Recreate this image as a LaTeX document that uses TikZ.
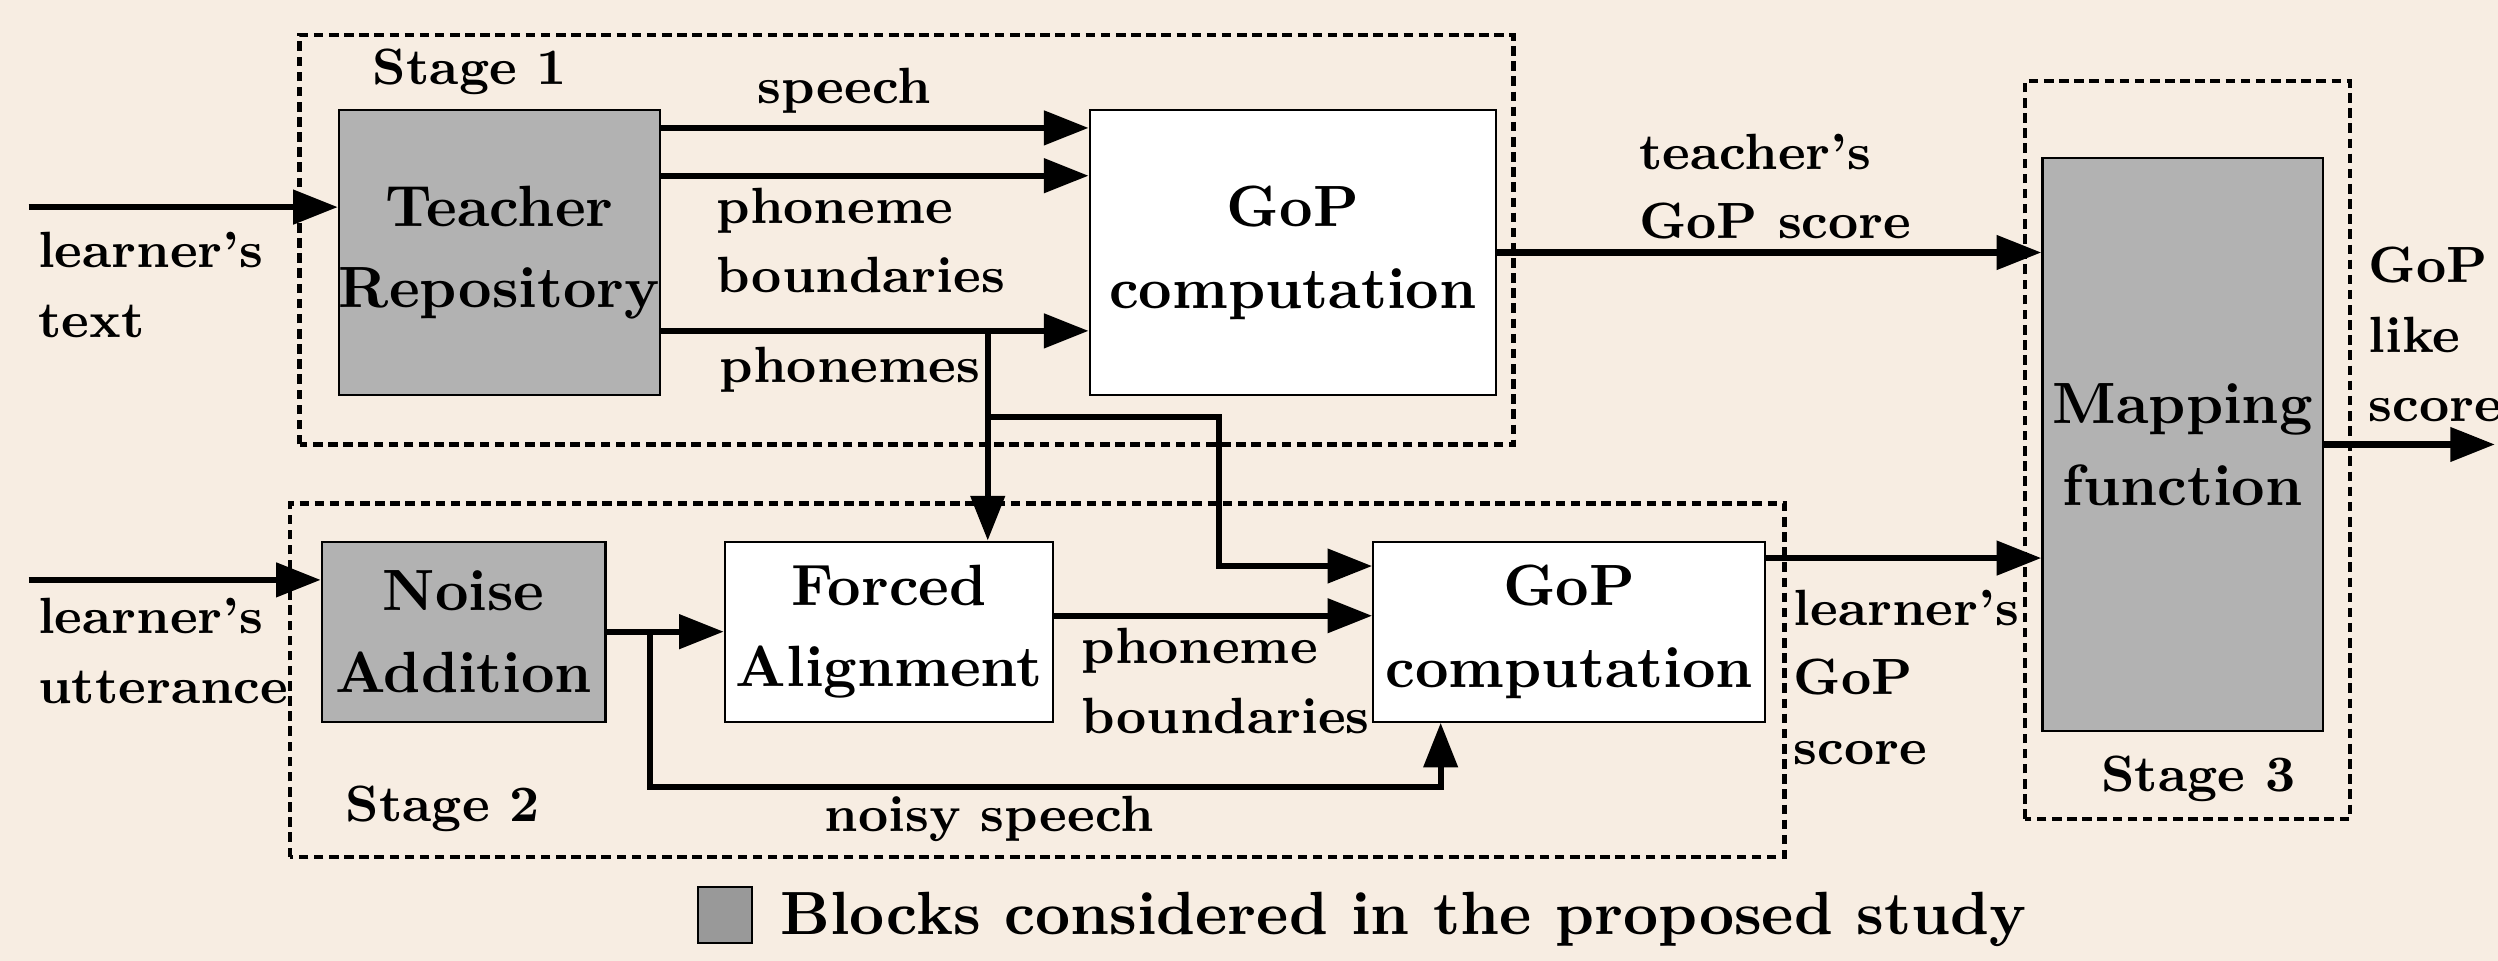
\documentclass[tikz,border=0pt]{standalone}
\usetikzlibrary{arrows.meta,calc}
\definecolor{paper}{RGB}{247,237,226}
\definecolor{blockgray}{RGB}{178,178,178}
\definecolor{keygray}{RGB}{153,153,153}
\begin{document}
\begin{tikzpicture} [>={Triangle[length=2.8mm,width=2.1mm]}, line width=1.1pt,
	block/.style ={draw, line width=0.4pt, fill=white, align=center, inner sep=0pt, font=\fontsize{10.4}{14.6}\selectfont\bfseries},
	shaded/.style ={block, fill=blockgray},
	stage/.style ={draw, dash pattern=on 0.6mm off 0.35mm, line width=0.8pt},
	lbl/.style ={align=left, inner sep=0pt, font=\fontsize{9.1}{12.4}\selectfont\bfseries}]
	\fill[paper] (0,0) rectangle (15.68,6.03);
	\useasboundingbox (0,0) rectangle (15.68,6.03);

	\draw[stage] (1.88,3.24) rectangle (9.50,5.81);
	\draw[stage] (1.82,0.65) rectangle (11.20,2.87);
	\draw[stage] (12.71,0.89) rectangle (14.75,5.52);

	\node[shaded, minimum width=2.01cm, minimum height=1.79cm] (teacher) at (3.135,4.445) {Teacher\\Repository};
	\node[block, minimum width=2.55cm, minimum height=1.79cm] (gop1) at (8.115,4.445) {GoP\\computation};
	\node[shaded, minimum width=1.76cm, minimum height=3.60cm] (mapping) at (13.70,3.24) {Mapping\\function};
	\node[shaded, minimum width=1.78cm, minimum height=1.13cm] (noise) at (2.91,2.065) {Noise\\Addition};
	\node[block, minimum width=2.06cm, minimum height=1.13cm] (forced) at (5.58,2.065) {Forced\\Alignment};
	\node[block, minimum width=2.46cm, minimum height=1.13cm] (gop2) at (9.85,2.065) {GoP\\computation};

	\coordinate (textin) at (0.18,4.73);
	\draw[->] (textin) -- (textin -| teacher.west);
	\node[lbl, anchor = west] (textlbl) at (0.22,4.24) {learner's\\text};

	\coordinate (sp) at ($(teacher.north east)+(0,-0.12)$);
	\draw[->] (sp) -- (sp -| gop1.west);
	\node[lbl] (splbl) at (5.30,5.46) {speech};
	\coordinate (pb) at ($(teacher.north east)+(0,-0.42)$);
	\draw[->] (pb) -- (pb -| gop1.west);
	\node[lbl, anchor = west] (pblbl) at (4.48,4.52) {phoneme\\boundaries};
	\coordinate (ph) at ($(teacher.south east)+(0,0.41)$);
	\draw[->] (ph) -- (ph -| gop1.west);
	\node[lbl, anchor = west] (phlbl) at (4.50,3.71) {phonemes};
	\node[lbl] (st1) at (2.95,5.58) {Stage 1};

	\coordinate (split) at (6.20,3.96);
	\draw[->] (split) -- (split |- forced.north);
	\coordinate (tap) at (6.20,3.41);
	\coordinate (bend) at (7.65,3.41);
	\coordinate (ph2) at ($(gop2.north west)+(0,-0.16)$);
	\draw[->] (tap) -- (bend) |- (ph2);

	\draw[->] (gop1.east) -- (gop1.east -| mapping.west);
	\node[lbl, anchor = west] (tchlbl) at (10.27,4.86) {teacher's\\GoP score};

	\coordinate (out) at (15.66,3.24);
	\draw[->] (mapping.east) -- (out);
	\node[lbl, anchor = west] (outlbl) at (14.85,3.93) {GoP\\like\\score};
	\node[lbl] (st3) at (13.80,1.14) {Stage 3};

	\coordinate (uttin) at (0.18,2.39);
	\draw[->] (uttin) -- (uttin -| noise.west);
	\node[lbl, anchor = west] (uttlbl) at (0.22,1.945) {learner's\\utterance};

	\draw[->] (noise.east) -- (forced.west);
	\coordinate (nsplit) at (4.08,2.065);
	\coordinate (nlow) at (4.08,1.09);
	\coordinate (nin) at ($(gop2.south west)+(0.43,0)$);
	\draw[->] (nsplit) -- (nlow) -| (nin);
	\node[lbl] (nslbl) at (6.21,0.89) {noisy speech};
	\node[lbl] (st2) at (2.78,0.95) {Stage 2};

	\coordinate (fa) at ($(forced.east)+(0,0.1)$);
	\draw[->] (fa) -- (fa -| gop2.west);
	\node[lbl, anchor = west] (fblbl) at (6.77,1.755) {phoneme\\boundaries};

	\coordinate (lrn) at ($(gop2.north east)+(0,-0.11)$);
	\draw[->] (lrn) -- (lrn -| mapping.west);
	\node[lbl, anchor = west] (lrnlbl) at (11.24,1.78) {learner's\\GoP\\score};

	\node[draw, fill=keygray, line width=0.4pt, minimum width=0.34cm, minimum height=0.35cm, inner sep=0pt] (key) at (4.55,0.285) {};
	\node[anchor = west, inner sep=0pt, font=\fontsize{10.9}{13}\selectfont\bfseries] (keylbl) at (4.88,0.26) {Blocks considered in the proposed study};
\end{tikzpicture}
\end{document}
